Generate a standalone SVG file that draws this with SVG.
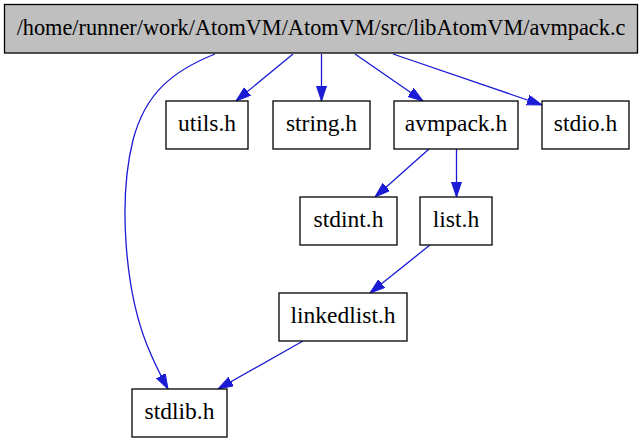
<svg xmlns="http://www.w3.org/2000/svg" width="644" height="443" viewBox="0 0 644 443">
<style>
.box{fill:#ffffff;stroke:#000000;stroke-width:1.3}
.root{fill:#bfbfbf;stroke:#000000;stroke-width:1.3}
.lbl{font-family:"Liberation Serif","Times New Roman",serif;font-size:23.5px;fill:#000000;text-anchor:middle}
.rlbl{font-family:"Liberation Serif","Times New Roman",serif;font-size:22.3px;fill:#000000;text-anchor:middle}
.edge{fill:none;stroke:#1b1bd6;stroke-width:1.3}
</style>
<defs>
<marker id="arr" markerUnits="userSpaceOnUse" markerWidth="16" markerHeight="12" refX="15" refY="5" orient="auto">
<path d="M0,0 L15,5 L0,10 z" fill="#1b1bd6" stroke="#1b1bd6" stroke-width="1"/>
</marker>
</defs>
<g id="connectors">
<path class="edge" marker-end="url(#arr)" d="M293,54 L236,101"/>
<path class="edge" marker-end="url(#arr)" d="M321.5,54 L321.5,101"/>
<path class="edge" marker-end="url(#arr)" d="M355,54 L423,101"/>
<path class="edge" marker-end="url(#arr)" d="M393,54 L542,105"/>
<path class="edge" marker-end="url(#arr)" d="M215,54 C170,72 145,95 133,140 C118,200 125,290 147,345 C155,365 162,378 168,389"/>
<path class="edge" marker-end="url(#arr)" d="M429,149 L375,197"/>
<path class="edge" marker-end="url(#arr)" d="M456.5,149 L456.5,197"/>
<path class="edge" marker-end="url(#arr)" d="M430,245 L370,293"/>
<path class="edge" marker-end="url(#arr)" d="M303,341 L218,389"/>
</g>
<g id="node-root">
<rect class="root" x="4.5" y="4.5" width="633" height="48.5"/>
<text class="rlbl" x="321" y="35">/home/runner/work/AtomVM/AtomVM/src/libAtomVM/avmpack.c</text>
</g>
<g id="node-utils">
<rect class="box" x="166" y="101" width="82" height="48"/>
<text class="lbl" x="207" y="130.5">utils.h</text>
</g>
<g id="node-string">
<rect class="box" x="273" y="101" width="97" height="48"/>
<text class="lbl" x="321.5" y="130.5">string.h</text>
</g>
<g id="node-avmpack">
<rect class="box" x="394" y="101" width="124" height="48"/>
<text class="lbl" x="456" y="130.5">avmpack.h</text>
</g>
<g id="node-stdio">
<rect class="box" x="542" y="101" width="87" height="48"/>
<text class="lbl" x="585.5" y="130.5">stdio.h</text>
</g>
<g id="node-stdint">
<rect class="box" x="300" y="197" width="97" height="48"/>
<text class="lbl" x="348.5" y="226.5">stdint.h</text>
</g>
<g id="node-list">
<rect class="box" x="420" y="197" width="72" height="48"/>
<text class="lbl" x="456" y="226.5">list.h</text>
</g>
<g id="node-linkedlist">
<rect class="box" x="279" y="293" width="128" height="48"/>
<text class="lbl" x="343" y="322.5">linkedlist.h</text>
</g>
<g id="node-stdlib">
<rect class="box" x="132" y="389" width="95" height="48"/>
<text class="lbl" x="179.5" y="418.5">stdlib.h</text>
</g>
</svg>
